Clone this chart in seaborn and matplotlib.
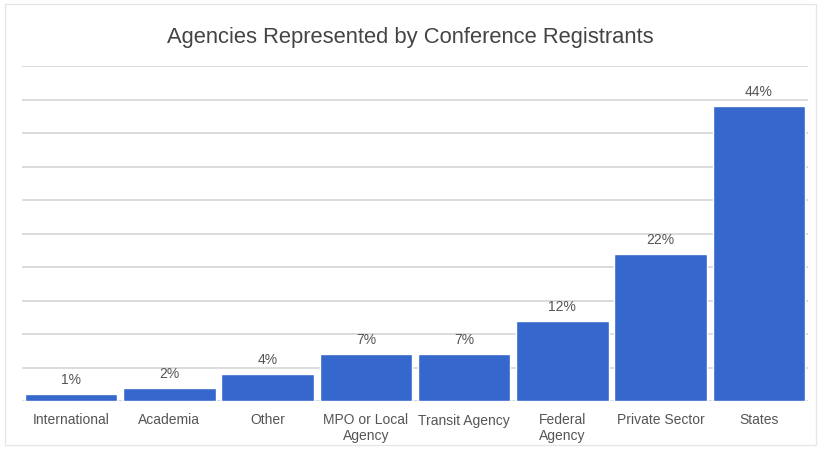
import matplotlib
matplotlib.use("Agg")
import matplotlib.pyplot as plt
import seaborn as sns
import pandas as pd

categories = ["International", "Academia", "Other", "MPO or Local\nAgency",
              "Transit Agency", "Federal\nAgency", "Private Sector", "States"]
shares = [1, 2, 4, 7, 7, 12, 22, 44]
yticks = [0, 5, 10, 15, 20, 25, 30, 35, 40, 45, 50]

sns.set_theme(style="white")
plt.rcParams["font.family"] = ["Liberation Sans", "DejaVu Sans"]

df = pd.DataFrame({"agency": categories, "share": shares})

fig = plt.figure(figsize=(8.21, 4.49), dpi=100)
ax = fig.add_axes([22 / 821, 1 - 401 / 449, (808 - 22) / 821, (401 - 66) / 449])

sns.barplot(data=df, x="agency", y="share", color="#3567cd", saturation=1,
            width=0.94, ax=ax, zorder=3)

ax.set_ylim(0, 50)
ax.set_xlim(-0.5, len(categories) - 0.5)
ax.set_yticks(yticks)
ax.set_yticklabels([])
ax.tick_params(axis="y", length=0)
ax.tick_params(axis="x", length=0, pad=9, labelsize=10, labelcolor="#555555")
for lbl in ax.get_xticklabels():
    lbl.set_linespacing(1.15)
ax.grid(axis="y", color="#dcdcdc", linewidth=1.4, zorder=0)
ax.set_axisbelow(True)
for s in ax.spines.values():
    s.set_visible(False)
ax.set_xlabel("")
ax.set_ylabel("")

for i, v in enumerate(shares):
    ax.annotate(f"{v}%", (i, v), xytext=(0, 5), textcoords="offset points",
                ha="center", va="bottom", fontsize=10, color="#555555")

fig.text(0.5, 1 - 37 / 449, "Agencies Represented by Conference Registrants",
         ha="center", va="center", fontsize=15.8, color="#444444")

# light frame around the chart
fig.patches.append(plt.Rectangle((5 / 821, 4 / 449), 1 - 10 / 821, 1 - 8 / 449,
                                 transform=fig.transFigure, fill=False,
                                 edgecolor="#e6e6e6", linewidth=1))

fig.savefig("out.png", dpi=100, facecolor="white")
